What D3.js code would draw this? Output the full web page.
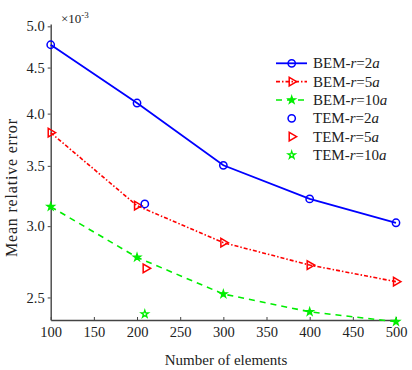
<!DOCTYPE html>
<html><head><meta charset="utf-8">
<script src="https://cdn.jsdelivr.net/npm/d3@7"></script>
<style>body{margin:0;background:#fff}svg{display:block}</style>
</head><body>
<script>
const elements = [100, 200, 300, 400, 500];
const bem2a = [4.77e-3, 4.11e-3, 3.505e-3, 3.216e-3, 3.026e-3];
const bem5a = [3.81e-3, 3.161e-3, 2.876e-3, 2.716e-3, 2.603e-3];
const bem10a = [3.153e-3, 2.770e-3, 2.522e-3, 2.410e-3, 2.350e-3];
const temX = [209, 210, 209];
const tem = [3.175e-3, 2.693e-3, 2.396e-3];
const xTicks = [100, 150, 200, 250, 300, 350, 400, 450, 500];
const yTicks = [2.5e-3, 3.0e-3, 3.5e-3, 4.0e-3, 4.5e-3, 5.0e-3];
const legendLabels = [["BEM-", "r", "=2", "a"], ["BEM-", "r", "=5", "a"], ["BEM-", "r", "=10", "a"],
                      ["TEM-", "r", "=2", "a"], ["TEM-", "r", "=5", "a"], ["TEM-", "r", "=10", "a"]];

const W = 412, H = 370;
const svg = d3.select("body").append("svg").attr("width", W).attr("height", H)
  .style("font-family", "'Liberation Serif', 'Times New Roman', serif");

const x = d3.scaleLinear().domain([100, 500]).range([50.7, 396]);
const y = d3.scaleLog().domain([2.36e-3, 5.03e-3]).range([320, 24]);

const axisColor = "#444";
// y axis
const ya = svg.append("g").attr("transform", "translate(50.7,0)")
  .call(d3.axisLeft(y).tickValues(yTicks).tickFormat(d => (d * 1000).toFixed(1)).tickSize(3).tickSizeOuter(0));
ya.select(".domain").attr("stroke", axisColor).attr("stroke-width", 1.4);
ya.selectAll(".tick line").attr("stroke", axisColor);
ya.selectAll(".tick text").attr("font-size", 14.5).attr("fill", "#222").attr("font-family", "'Liberation Serif', serif").attr("x", -6);

// x axis
const xa = svg.append("g").attr("transform", "translate(0,320)")
  .call(d3.axisBottom(x).tickValues(xTicks).tickSize(-3).tickSizeOuter(0));
xa.select(".domain").attr("stroke", axisColor).attr("stroke-width", 1.4);
xa.selectAll(".tick line").attr("stroke", axisColor);
xa.selectAll(".tick text").attr("font-size", 14.5).attr("fill", "#222").attr("font-family", "'Liberation Serif', serif").attr("y", 7);

// exponent
const ex = svg.append("text").attr("x", 61).attr("y", 23).attr("font-size", 13).attr("fill", "#222");
ex.append("tspan").text("×10");
ex.append("tspan").attr("font-size", 9).attr("dy", -5).text("-3");

// axis titles
svg.append("text").attr("x", 226).attr("y", 365).attr("text-anchor", "middle")
  .attr("font-size", 15).attr("fill", "#222").text("Number of elements");
svg.append("text").attr("transform", "translate(17,188) rotate(-90)").attr("text-anchor", "middle")
  .attr("font-size", 16).attr("fill", "#222").attr("textLength", 138).attr("lengthAdjust", "spacing")
  .text("Mean relative error");

const star = d3.symbol().type(d3.symbolStar).size(17);
const circ = d3.symbol().type(d3.symbolCircle).size(42);
const tri = d3.symbol().type(d3.symbolTriangle).size(32);

function marker(g, kind, color, filled, cx, cy) {
  let p;
  if (kind === "circle") p = g.append("path").attr("d", circ()).attr("transform", `translate(${cx},${cy})`);
  else if (kind === "tri") p = g.append("path").attr("d", tri()).attr("transform", `translate(${cx},${cy}) rotate(90)`);
  else p = g.append("path").attr("d", star()).attr("transform", `translate(${cx},${cy})`);
  p.attr("stroke", color).attr("stroke-width", kind === "star" ? 1.3 : 1.5).attr("fill", filled ? color : "none");
}

const series = [
  { vals: bem2a, color: "#0000ff", dash: null, kind: "circle", filled: false, w: 1.8 },
  { vals: bem5a, color: "#ff0000", dash: "4,2,1.5,2", kind: "tri", filled: false, w: 1.6 },
  { vals: bem10a, color: "#00ee00", dash: "6,5", kind: "star", filled: true, w: 1.6 }
];
const line = d3.line().x((d, i) => x(elements[i])).y(d => y(d));
series.forEach(s => {
  svg.append("path").datum(s.vals).attr("d", line).attr("fill", "none")
    .attr("stroke", s.color).attr("stroke-width", s.w).attr("stroke-dasharray", s.dash);
  const g = svg.append("g");
  s.vals.forEach((v, i) => marker(g, s.kind, s.color, s.filled, x(elements[i]), y(v)));
});
const temKinds = ["circle", "tri", "star"];
const temColors = ["#0000ff", "#ff0000", "#00ee00"];
tem.forEach((v, i) => marker(svg.append("g"), temKinds[i], temColors[i], false, x(temX[i]), y(v)));

// legend
const lg = svg.append("g");
const rowY0 = 63.3, rowH = 18.35;
legendLabels.forEach((lab, i) => {
  const yy = rowY0 + i * rowH;
  if (i < 3) {
    const s = series[i];
    lg.append("line").attr("x1", 276).attr("x2", 307).attr("y1", yy).attr("y2", yy)
      .attr("stroke", s.color).attr("stroke-width", s.w).attr("stroke-dasharray", s.dash);
    marker(lg, s.kind, s.color, s.filled, 291.7, yy);
  } else {
    marker(lg, temKinds[i - 3], temColors[i - 3], false, 291.7, yy);
  }
  const t = lg.append("text").attr("x", 313).attr("y", yy + 5).attr("font-size", 15).attr("fill", "#222");
  t.append("tspan").text(lab[0]);
  t.append("tspan").attr("font-style", "italic").text(lab[1]);
  t.append("tspan").text(lab[2]);
  t.append("tspan").attr("font-style", "italic").text(lab[3]);
});
</script>
</body></html>
